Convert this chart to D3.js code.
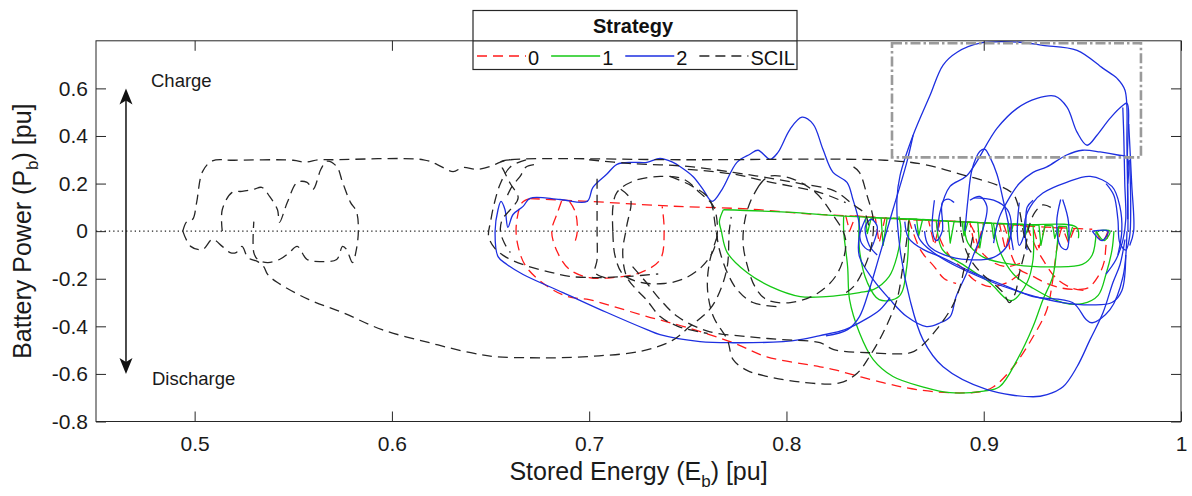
<!DOCTYPE html>
<html>
<head>
<meta charset="utf-8">
<script src="https://cdn.jsdelivr.net/npm/d3@7"></script>
<style>
html,body{margin:0;padding:0;background:#fff;}
svg{display:block;font-family:"Liberation Sans",Arial,Helvetica,sans-serif;}
</style>
</head>
<body>
<svg id="chart" width="1192" height="496"></svg>
<script>
// ---- axis ticks ----
const xTickValues = [0.5, 0.6, 0.7, 0.8, 0.9, 1];
const xTickLabels = ["0.5", "0.6", "0.7", "0.8", "0.9", "1"];
const yTickValues = [-0.8, -0.6, -0.4, -0.2, 0, 0.2, 0.4, 0.6];
const yTickLabels = ["-0.8", "-0.6", "-0.4", "-0.2", "0", "0.2", "0.4", "0.6"];

// ---- legend entries ----
const strategyNames = ["0", "1", "2", "SCIL"];

// ---- trajectories: [stored energy Eb, battery power Pb] ----
const strategy0Paths = [
  [[0.67,0.137],[0.7,0.125],[0.742,0.105],[0.783,0.092],[0.807,0.075],[0.841,0.06],[0.858,0.05],[0.9,0.035],[0.925,0.02],[0.945,0.012],[0.955,0.008]],
  [[0.67,0.137],[0.666,0.12],[0.663,0.02],[0.664,-0.065],[0.668,-0.149],[0.679,-0.233],[0.689,-0.275],[0.7,-0.288],[0.712,-0.316],[0.729,-0.358],[0.748,-0.401],[0.773,-0.469],[0.79,-0.528],[0.817,-0.57],[0.824,-0.582],[0.849,-0.637],[0.866,-0.666],[0.883,-0.679],[0.898,-0.675],[0.905,-0.654],[0.915,-0.57],[0.925,-0.444],[0.932,-0.33],[0.935,-0.204],[0.937,-0.077],[0.939,0.0],[0.94,0.02]],
  [[0.686,0.127],[0.684,0.079],[0.681,0.0],[0.684,-0.09],[0.69,-0.161],[0.7,-0.195],[0.712,-0.195],[0.726,-0.174],[0.736,-0.119],[0.738,0.0],[0.737,0.104]],
  [[0.69,0.125],[0.693,0.08],[0.694,0.0],[0.693,-0.04]],
  [[0.876,0.04],[0.878,-0.035],[0.883,-0.107],[0.89,-0.162],[0.895,-0.204],[0.903,-0.233],[0.912,-0.216],[0.918,-0.18]],
  [[0.893,0.03],[0.895,0.0],[0.898,-0.077],[0.905,-0.132],[0.912,-0.149],[0.92,-0.13]],
  [[0.91,0.03],[0.912,-0.02],[0.914,-0.1],[0.918,-0.16],[0.925,-0.19],[0.932,-0.22],[0.94,-0.24],[0.948,-0.245],[0.953,-0.238],[0.958,-0.19],[0.961,-0.13],[0.962,-0.06],[0.963,0.0]],
  [[0.922,0.02],[0.926,-0.06],[0.93,-0.12],[0.937,-0.2],[0.945,-0.24],[0.952,-0.25]],
  [[0.862,0.05],[0.868,-0.08],[0.875,-0.15],[0.88,-0.2],[0.886,-0.22]],
  [[0.957,0.0],[0.96,-0.045],[0.963,0.0]]
];
const strategy0Comb = [[0.83,0.066],[0.832,0.0],[0.835,0.064],[0.845,0.058],[0.847,-0.05],[0.85,0.056],[0.872,0.046],[0.875,-0.06],[0.878,0.044],[0.893,0.038],[0.896,-0.09],[0.9,0.035],[0.908,0.03],[0.911,-0.08],[0.914,0.028],[0.925,0.018],[0.928,-0.07],[0.931,0.016],[0.94,0.013],[0.943,-0.05],[0.946,0.012]];

const strategy1Paths = [
  [[0.768,0.09],[0.8,0.08],[0.832,0.062],[0.866,0.05],[0.881,0.042],[0.92,0.028],[0.947,0.016],[0.948,-0.03]],
  [[0.768,0.09],[0.766,0.04],[0.767,0.0],[0.77,-0.09],[0.78,-0.174],[0.792,-0.233],[0.807,-0.275],[0.82,-0.275],[0.837,-0.258],[0.844,-0.246],[0.852,-0.191],[0.856,-0.107],[0.858,0.007],[0.857,0.062]],
  [[0.829,0.062],[0.829,0.0],[0.831,-0.149],[0.832,-0.288],[0.837,-0.427],[0.844,-0.54],[0.854,-0.611],[0.869,-0.654],[0.883,-0.679],[0.9,-0.672],[0.908,-0.654],[0.917,-0.54],[0.925,-0.401],[0.93,-0.288],[0.935,-0.191],[0.937,-0.077],[0.938,0.02]],
  [[0.837,0.06],[0.837,-0.077],[0.841,-0.216],[0.847,-0.288],[0.857,-0.275],[0.861,-0.149],[0.862,0.05]],
  [[0.876,0.042],[0.879,-0.077],[0.891,-0.149],[0.903,-0.216],[0.912,-0.288],[0.915,-0.29],[0.922,-0.216],[0.925,-0.119],[0.925,0.03]],
  [[0.89,0.04],[0.892,-0.05],[0.9,-0.11],[0.915,-0.14],[0.935,-0.15],[0.95,-0.14],[0.955,-0.1],[0.957,0.0]],
  [[0.905,0.03],[0.908,-0.08],[0.915,-0.18],[0.925,-0.24],[0.94,-0.3],[0.95,-0.305],[0.958,-0.27],[0.962,-0.18],[0.965,-0.08],[0.966,0.0]],
  [[0.957,0.0],[0.961,-0.04],[0.964,0.0],[0.957,0.0]]
];
const strategy1Comb = [[0.84,0.058],[0.841,-0.01],[0.843,0.057],[0.848,0.055],[0.849,-0.06],[0.851,0.054],[0.866,0.05],[0.867,-0.02],[0.869,0.049],[0.882,0.042],[0.883,-0.05],[0.885,0.041],[0.889,0.04],[0.89,-0.02],[0.892,0.039],[0.897,0.037],[0.898,-0.07],[0.9,0.036],[0.904,0.034],[0.905,-0.03],[0.907,0.033],[0.912,0.031],[0.913,-0.04],[0.915,0.03],[0.92,0.028],[0.921,-0.02],[0.923,0.027],[0.928,0.025],[0.929,-0.06],[0.931,0.024],[0.935,0.022],[0.936,-0.03],[0.938,0.021],[0.942,0.019],[0.943,-0.04],[0.945,0.018]];

const strategy2Paths = [
  [[0.8525,-0.279],[0.8474,-0.33],[0.8398,-0.372],[0.8297,-0.414],[0.817,-0.439],[0.8069,-0.456],[0.7983,-0.464],[0.7729,-0.469],[0.7562,-0.464],[0.7359,-0.435],[0.7293,-0.414],[0.709,-0.342],[0.6867,-0.258],[0.6665,-0.182],[0.6583,-0.14],[0.6538,-0.107],[0.6523,0.0],[0.6538,0.091],[0.6553,0.125],[0.6573,0.091],[0.6588,0.016],[0.6614,0.07],[0.6665,0.104],[0.67,0.138],[0.6852,0.133],[0.6989,0.125],[0.7019,0.184],[0.709,0.24],[0.7141,0.281],[0.7222,0.289],[0.7293,0.289],[0.7359,0.306],[0.7425,0.289],[0.746,0.272],[0.7526,0.23],[0.7577,0.176],[0.7623,0.125],[0.7674,0.176],[0.7749,0.289],[0.7815,0.323],[0.7856,0.34],[0.7917,0.302],[0.7957,0.331],[0.8018,0.428],[0.8079,0.479],[0.8135,0.45],[0.8185,0.344],[0.8236,0.247],[0.8307,0.205],[0.8337,0.133],[0.8363,0.057],[0.8373,0.0]],
  [[0.837,0.0],[0.838,-0.05],[0.842,-0.08],[0.845,-0.03],[0.846,0.02],[0.843,0.05],[0.84,0.02],[0.842,-0.06],[0.846,-0.1]],
  [[0.9716,-0.035],[0.9691,-0.14],[0.9655,-0.216],[0.9605,-0.342],[0.9539,-0.456],[0.9473,-0.57],[0.9402,-0.654],[0.9321,-0.687],[0.925,-0.696],[0.9017,-0.666],[0.8794,-0.57],[0.8692,-0.456],[0.8626,-0.288],[0.8576,-0.077],[0.856,0.133],[0.8576,0.234],[0.8642,0.403],[0.8728,0.571],[0.8794,0.698],[0.8865,0.752],[0.8981,0.79],[0.9184,0.794],[0.93,0.781],[0.9473,0.76],[0.9605,0.684],[0.9676,0.642],[0.9716,0.592],[0.9726,0.36],[0.9731,0.133],[0.9731,0.0]],
  [[0.8768,0.0],[0.8778,0.079],[0.8829,0.188],[0.8915,0.234],[0.9067,0.432],[0.9169,0.516],[0.927,0.558],[0.9361,0.567],[0.9422,0.521],[0.9473,0.416],[0.9524,0.361],[0.9574,0.403],[0.964,0.474],[0.9706,0.529],[0.9726,0.537],[0.9728,0.3],[0.973,0.05]],
  [[0.8905,0.0],[0.892,0.133],[0.8941,0.26],[0.8981,0.336],[0.9006,0.344],[0.9032,0.31],[0.9067,0.239],[0.9098,0.133],[0.9133,0.0],[0.915,-0.08]],
  [[0.905,-0.05],[0.908,0.06],[0.913,0.14],[0.918,0.2],[0.925,0.247],[0.932,0.27],[0.942,0.32],[0.95,0.34],[0.959,0.333],[0.968,0.32],[0.9726,0.31],[0.973,0.2]],
  [[0.922,-0.08],[0.921,0.049],[0.925,0.12],[0.93,0.16],[0.942,0.205],[0.954,0.23],[0.965,0.188],[0.969,0.104],[0.97,0.0],[0.968,-0.1]],
  [[0.86,0.04],[0.862,-0.03],[0.87,-0.08],[0.878,-0.107],[0.8945,-0.174],[0.912,-0.233],[0.925,-0.275],[0.945,-0.3],[0.952,-0.372],[0.955,-0.385],[0.964,-0.33],[0.9706,-0.191],[0.9726,0.0]],
  [[0.865,0.03],[0.868,-0.04],[0.878,-0.11],[0.9,-0.2],[0.92,-0.26],[0.94,-0.3],[0.955,-0.31],[0.965,-0.3],[0.97,-0.25],[0.972,-0.1]],
  [[0.84,0.05],[0.837,-0.02],[0.837,-0.107],[0.844,-0.204],[0.8525,-0.288],[0.861,-0.359],[0.871,-0.401],[0.878,-0.385],[0.883,-0.359],[0.886,-0.275],[0.8915,-0.174],[0.8945,-0.107],[0.8996,0.007],[0.9016,0.104],[0.898,0.146],[0.893,0.13]],
  [[0.875,0.13],[0.874,0.0],[0.876,-0.04],[0.879,0.0],[0.879,0.12],[0.882,0.135],[0.885,0.12]],
  [[0.918,0.12],[0.917,0.0],[0.918,-0.06],[0.921,0.0],[0.922,0.1],[0.925,0.13]],
  [[0.939,0.133],[0.937,0.036],[0.939,-0.064],[0.942,-0.077],[0.943,0.036],[0.94,0.133]],
  [[0.9705,0.52],[0.971,0.4],[0.9715,0.2],[0.972,0.05],[0.9705,-0.04],[0.967,-0.12],[0.962,-0.18]],
  [[0.974,0.3],[0.9745,0.1],[0.974,-0.02],[0.972,-0.08],[0.969,-0.05],[0.968,0.05],[0.966,0.15],[0.962,0.2]],
  [[0.9735,0.45],[0.975,0.2],[0.976,0.0],[0.974,-0.06]],
  [[0.955,0.0],[0.96,-0.04],[0.963,0.0],[0.955,0.0]],
  [[0.87,0.0],[0.872,-0.06],[0.88,-0.1],[0.892,-0.12],[0.905,-0.11],[0.912,-0.06],[0.914,0.02],[0.912,0.09],[0.905,0.13],[0.895,0.14]],
  [[0.8642,0.403],[0.861,0.289],[0.854,0.091],[0.847,-0.107],[0.842,-0.246],[0.837,-0.359],[0.831,-0.414],[0.82,-0.44]]
];

const scilPaths = [
  [[0.494,0.0],[0.496,0.04],[0.499,0.05],[0.501,0.12],[0.504,0.25],[0.509,0.295],[0.52,0.298],[0.55,0.298],[0.556,0.29],[0.563,0.3],[0.57,0.3],[0.616,0.3],[0.623,0.28],[0.631,0.25],[0.636,0.268],[0.643,0.26],[0.65,0.272],[0.655,0.29],[0.66,0.3],[0.75,0.3],[0.85,0.298],[0.87,0.28],[0.888,0.24],[0.908,0.19],[0.915,0.155],[0.918,0.09],[0.92,0.0],[0.922,-0.06],[0.925,-0.1]],
  [[0.494,0.0],[0.498,-0.064],[0.504,-0.077],[0.509,-0.035],[0.514,-0.064],[0.518,-0.09],[0.521,-0.09],[0.524,-0.064],[0.527,-0.111],[0.532,-0.128],[0.535,-0.149],[0.537,-0.182],[0.542,-0.216],[0.558,-0.288],[0.575,-0.342],[0.595,-0.414],[0.619,-0.469],[0.64,-0.511],[0.653,-0.528],[0.67,-0.532],[0.685,-0.532],[0.705,-0.524],[0.726,-0.505],[0.742,-0.46],[0.751,-0.401],[0.761,-0.33],[0.766,-0.258],[0.77,-0.149],[0.771,0.0],[0.772,0.06]],
  [[0.514,0.0],[0.514,0.09],[0.519,0.163],[0.524,0.167],[0.53,0.176],[0.534,0.184],[0.538,0.146],[0.542,0.09],[0.543,0.037],[0.547,0.121],[0.552,0.205],[0.557,0.205],[0.56,0.176],[0.564,0.26],[0.567,0.294],[0.572,0.272],[0.575,0.205],[0.579,0.121],[0.582,0.083],[0.583,0.007],[0.582,-0.077],[0.58,-0.132],[0.577,-0.077],[0.575,-0.064],[0.572,-0.119],[0.564,-0.128],[0.557,-0.119],[0.552,-0.064],[0.548,-0.09],[0.543,-0.119],[0.537,-0.132],[0.532,-0.119],[0.53,-0.09],[0.53,0.04]],
  [[0.668,0.3],[0.66,0.27],[0.655,0.2],[0.652,0.12],[0.65,0.04],[0.649,-0.02],[0.652,-0.07],[0.658,-0.11],[0.668,-0.145],[0.68,-0.172],[0.69,-0.19],[0.704,-0.195],[0.72,-0.19],[0.735,-0.18]],
  [[0.66,0.3],[0.655,0.29],[0.657,0.25],[0.66,0.2],[0.664,0.14],[0.66,0.09],[0.656,0.05],[0.655,0.0],[0.657,-0.05],[0.66,-0.09]],
  [[0.672,0.28],[0.668,0.27],[0.665,0.23],[0.661,0.19],[0.658,0.14]],
  [[0.704,0.22],[0.704,0.1],[0.704,0.0],[0.704,-0.12],[0.703,-0.175],[0.71,-0.2]],
  [[0.712,0.0],[0.712,0.1],[0.714,0.162],[0.722,0.209],[0.736,0.23],[0.748,0.218],[0.756,0.162],[0.763,0.104],[0.765,0.0],[0.763,-0.08],[0.757,-0.15],[0.748,-0.2],[0.738,-0.22],[0.726,-0.215],[0.717,-0.18],[0.713,-0.1],[0.712,0.0]],
  [[0.716,0.176],[0.721,0.133],[0.719,0.02],[0.717,-0.09],[0.719,-0.191],[0.724,-0.246],[0.729,-0.288],[0.736,-0.359],[0.745,-0.4],[0.76,-0.43]],
  [[0.765,-0.02],[0.761,-0.13],[0.76,-0.246],[0.763,-0.36],[0.77,-0.456],[0.773,-0.54],[0.78,-0.585],[0.79,-0.61],[0.807,-0.634],[0.827,-0.638],[0.836,-0.596],[0.842,-0.528],[0.849,-0.427],[0.856,-0.288],[0.859,-0.149],[0.861,-0.035],[0.862,0.05]],
  [[0.722,-0.149],[0.729,-0.216],[0.736,-0.288],[0.745,-0.36],[0.76,-0.42],[0.781,-0.444],[0.798,-0.456],[0.817,-0.469],[0.824,-0.498],[0.842,-0.511],[0.863,-0.511],[0.868,-0.486],[0.876,-0.414],[0.884,-0.317],[0.888,-0.233],[0.89,-0.162],[0.893,-0.08],[0.895,0.0]],
  [[0.786,0.19],[0.791,0.23],[0.803,0.22],[0.815,0.16],[0.823,0.075],[0.83,-0.035],[0.826,-0.175],[0.816,-0.26],[0.802,-0.3],[0.79,-0.288],[0.784,-0.233],[0.78,-0.14],[0.778,-0.05],[0.779,0.05],[0.782,0.13],[0.786,0.19]],
  [[0.741,0.23],[0.752,0.19],[0.761,0.134],[0.764,0.02],[0.766,-0.077],[0.77,-0.174],[0.775,-0.246],[0.783,-0.3],[0.797,-0.318]],
  [[0.888,0.06],[0.889,-0.02],[0.892,-0.1],[0.898,-0.17],[0.905,-0.22],[0.91,-0.26],[0.913,-0.3],[0.916,-0.26],[0.918,-0.18],[0.921,-0.08],[0.923,0.02],[0.926,0.08],[0.93,0.11],[0.934,0.1]],
  [[0.7,0.3],[0.72,0.285],[0.75,0.272],[0.773,0.247],[0.79,0.225],[0.807,0.2],[0.824,0.17],[0.834,0.11],[0.84,0.07],[0.842,0.0]],
  [[0.75,0.26],[0.773,0.24],[0.79,0.209],[0.817,0.162],[0.83,0.12]],
  [[0.834,0.27],[0.837,0.247],[0.841,0.146],[0.844,0.049],[0.843,-0.064],[0.839,-0.162],[0.834,-0.233],[0.828,-0.27]]
];

// highlighted region (dash-dot box)
const zoomBox = {e0: 0.8535, e1: 0.9797, p0: 0.31, p1: 0.79};
// charge / discharge arrow
const arrowEnergy = 0.4652;
const arrowPower = [0.6, -0.6];

// ---- styles ----
const seriesStyle = {
  "0":    {color: "#ff1a1a", dash: "10,6", width: 1.3},
  "1":    {color: "#14c814", dash: null,  width: 1.3},
  "2":    {color: "#1d2fe0", dash: null,  width: 1.3},
  "SCIL": {color: "#262626", dash: "10,6", width: 1.3}
};
const axisColor = "#262626";

// ---- layout ----
const plot = {left: 96, right: 1181, top: 40.8, bottom: 421.5};
const x = d3.scaleLinear().domain([0.45, 1]).range([plot.left, plot.right]);
const y = d3.scaleLinear().domain([-0.8, 0.8]).range([plot.bottom, plot.top]);

const svg = d3.select("#chart");
svg.append("rect").attr("width", 1192).attr("height", 496).attr("fill", "#fff");

svg.append("defs").append("clipPath").attr("id", "plotClip")
  .append("rect")
  .attr("x", plot.left).attr("y", plot.top)
  .attr("width", plot.right - plot.left).attr("height", plot.bottom - plot.top);

// zero reference line
svg.append("line")
  .attr("x1", x(0.45)).attr("x2", x(1))
  .attr("y1", y(0)).attr("y2", y(0))
  .attr("stroke", "#222").attr("stroke-width", 1.3)
  .attr("stroke-dasharray", "1.3,3");

const dataLayer = svg.append("g").attr("clip-path", "url(#plotClip)");
const smooth = d3.line().x(d => x(d[0])).y(d => y(d[1])).curve(d3.curveCatmullRom.alpha(0.5));
const straight = d3.line().x(d => x(d[0])).y(d => y(d[1]));

function drawSeries(name, paths, comb) {
  const st = seriesStyle[name];
  const g = dataLayer.append("g")
    .attr("fill", "none")
    .attr("stroke", st.color)
    .attr("stroke-width", st.width)
    .attr("stroke-linejoin", "round")
    .attr("stroke-dasharray", st.dash);
  g.selectAll("path.loop").data(paths).join("path").attr("class", "loop").attr("d", smooth);
  if (comb) g.append("path").attr("d", straight(comb));
}
drawSeries("0", strategy0Paths, strategy0Comb);
drawSeries("1", strategy1Paths, strategy1Comb);
drawSeries("2", strategy2Paths, null);
drawSeries("SCIL", scilPaths, null);

// dash-dot highlight box
svg.append("rect")
  .attr("x", x(zoomBox.e0)).attr("y", y(zoomBox.p1))
  .attr("width", x(zoomBox.e1) - x(zoomBox.e0))
  .attr("height", y(zoomBox.p0) - y(zoomBox.p1))
  .attr("fill", "none").attr("stroke", "#9a9a9a").attr("stroke-width", 2.6)
  .attr("stroke-dasharray", "10,3,2.5,3");

// ---- axes (ticks on all four sides, pointing inward) ----
function styleAxis(g) {
  g.select(".domain").remove();
  g.selectAll(".tick line").attr("stroke", axisColor).attr("stroke-width", 1);
  g.selectAll(".tick text").attr("fill", "#1a1a1a");
  g.attr("font-family", null).attr("font-size", 21);
}
svg.append("g").attr("transform", `translate(0,${plot.bottom})`)
  .call(d3.axisBottom(x).tickValues(xTickValues).tickFormat((d, i) => xTickLabels[i]).tickSize(-10).tickPadding(15))
  .call(styleAxis);
svg.append("g").attr("transform", `translate(0,${plot.top})`)
  .call(d3.axisTop(x).tickValues(xTickValues).tickFormat("").tickSize(-10))
  .call(styleAxis);
svg.append("g").attr("transform", `translate(${plot.left},0)`)
  .call(d3.axisLeft(y).tickValues(yTickValues).tickFormat((d, i) => yTickLabels[i]).tickSize(-10).tickPadding(8))
  .call(styleAxis);
svg.append("g").attr("transform", `translate(${plot.right},0)`)
  .call(d3.axisRight(y).tickValues(yTickValues).tickFormat("").tickSize(-10))
  .call(styleAxis);

svg.append("rect")
  .attr("x", plot.left).attr("y", plot.top)
  .attr("width", plot.right - plot.left).attr("height", plot.bottom - plot.top)
  .attr("fill", "none").attr("stroke", axisColor).attr("stroke-width", 1);

// axis titles
const xTitle = svg.append("text")
  .attr("x", (plot.left + plot.right) / 2).attr("y", 480)
  .attr("text-anchor", "middle").attr("font-size", 25).attr("fill", "#1a1a1a");
xTitle.append("tspan").text("Stored Energy (E");
xTitle.append("tspan").attr("font-size", 17).attr("dy", 7).text("b");
xTitle.append("tspan").attr("dy", -7).text(") [pu]");

const yTitle = svg.append("text")
  .attr("transform", `translate(31,${(plot.top + plot.bottom) / 2})rotate(-90)`)
  .attr("text-anchor", "middle").attr("font-size", 25).attr("fill", "#1a1a1a");
yTitle.append("tspan").text("Battery Power (P");
yTitle.append("tspan").attr("font-size", 17).attr("dy", 7).text("b");
yTitle.append("tspan").attr("dy", -7).text(") [pu]");

// charge / discharge arrow
const ax = x(arrowEnergy), yTop = y(arrowPower[0]), yBot = y(arrowPower[1]);
svg.append("line").attr("x1", ax).attr("x2", ax).attr("y1", yTop + 8).attr("y2", yBot - 8)
  .attr("stroke", "#111").attr("stroke-width", 1.5);
svg.append("path")
  .attr("d", `M${ax},${yTop} L${ax - 6.5},${yTop + 16} L${ax},${yTop + 12} L${ax + 6.5},${yTop + 16} Z`)
  .attr("fill", "#111");
svg.append("path")
  .attr("d", `M${ax},${yBot} L${ax - 6.5},${yBot - 16} L${ax},${yBot - 12} L${ax + 6.5},${yBot - 16} Z`)
  .attr("fill", "#111");
svg.append("text").attr("x", ax + 25).attr("y", yTop - 1).attr("font-size", 18.5).attr("fill", "#1a1a1a").text("Charge");
svg.append("text").attr("x", ax + 26).attr("y", yBot + 11).attr("font-size", 18.5).attr("fill", "#1a1a1a").text("Discharge");

// ---- legend ----
const legend = svg.append("g");
const lg = {x: 473, y: 10.5, w: 324, h: 59, split: 40.8};
legend.append("rect").attr("x", lg.x).attr("y", lg.y).attr("width", lg.w).attr("height", lg.h)
  .attr("fill", "#fff").attr("stroke", axisColor).attr("stroke-width", 1.2);
legend.append("line").attr("x1", lg.x).attr("x2", lg.x + lg.w).attr("y1", lg.split).attr("y2", lg.split)
  .attr("stroke", axisColor).attr("stroke-width", 1.2);
legend.append("text").attr("x", lg.x + lg.w / 2 - 2).attr("y", 32.5)
  .attr("text-anchor", "middle").attr("font-size", 20).attr("font-weight", "bold").attr("fill", "#111")
  .text("Strategy");
let cursor = lg.x + 4;
strategyNames.forEach(name => {
  const st = seriesStyle[name];
  legend.append("line").attr("x1", cursor).attr("x2", cursor + 49).attr("y1", 56).attr("y2", 56)
    .attr("stroke", st.color).attr("stroke-width", 1.4).attr("stroke-dasharray", st.dash);
  const t = legend.append("text").attr("x", cursor + 51).attr("y", 64.5)
    .attr("font-size", 20).attr("fill", "#111").text(name);
  cursor += 51 + t.node().getComputedTextLength() + 12;
});
</script>
</body>
</html>
